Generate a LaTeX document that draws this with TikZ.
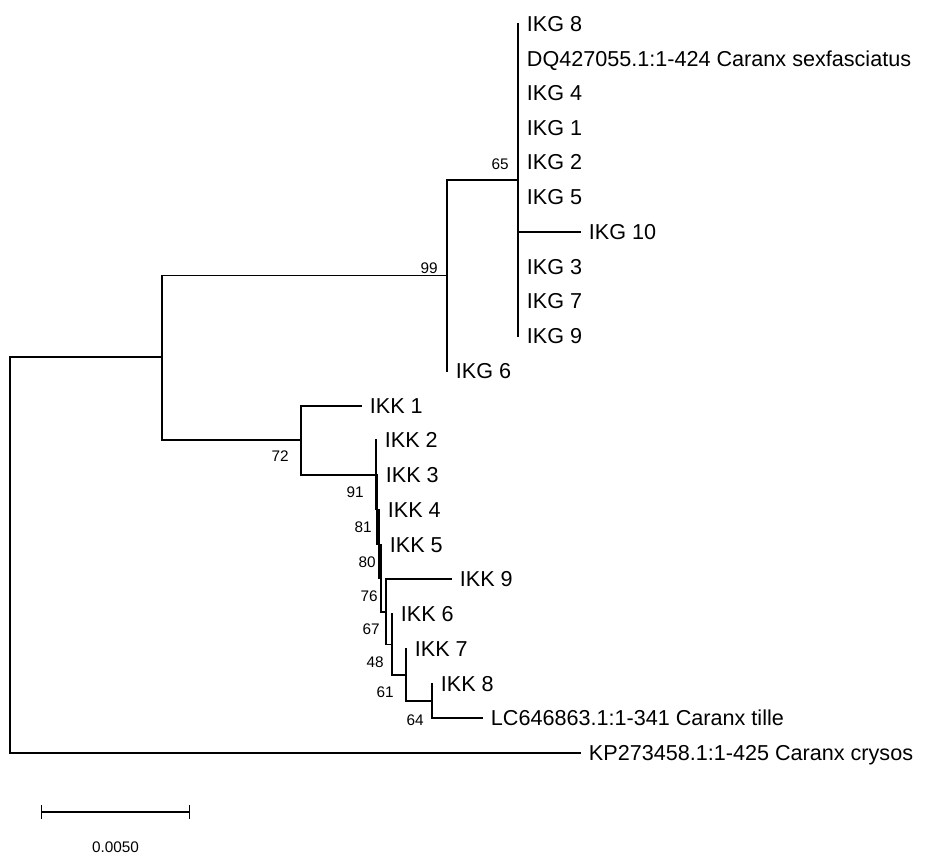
\documentclass[tikz,border=0pt]{standalone}
\usepackage{fontspec}
\setmainfont{Liberation Sans}
\usetikzlibrary{arrows.meta}

\begin{document}
\begin{tikzpicture}[
    x=0.75pt, y=-0.75pt,
    every node/.style={inner sep=0pt},
    branch/.style={line width=0.9pt, line cap=rect},
    taxon/.style={anchor=west, xshift=6.5pt, text height=11.6pt, text depth=0pt, font=\fontsize{16.2}{19}\selectfont},
    boot/.style={anchor=east, text height=8.2pt, text depth=0pt, font=\fontsize{11.5}{13}\selectfont}
]
\useasboundingbox (0,0) rectangle (929,855);

% internal nodes
\coordinate (root) at (10,555);
\coordinate (nA) at (162,357);
\coordinate (n99) at (447,275.5);
\coordinate (n65) at (518,180);
\coordinate (n72) at (301,440);
\coordinate (nB) at (376,475);
\coordinate (nC) at (377,509.5);
\coordinate (nD) at (379,544);
\coordinate (nE) at (381,578.5);
\coordinate (nF) at (386,612);
\coordinate (nG) at (392,644.5);
\coordinate (nH) at (406,675);
\coordinate (nI) at (432,701);

% tips
\coordinate (ikg8) at (518,24);
\coordinate (dq) at (518,59);
\coordinate (ikg4) at (518,93);
\coordinate (ikg1) at (518,128);
\coordinate (ikg2) at (518,162);
\coordinate (ikg5) at (518,197);
\coordinate (ikg10) at (580,232);
\coordinate (ikg3) at (518,267);
\coordinate (ikg7) at (518,301);
\coordinate (ikg9) at (518,336);
\coordinate (ikg6) at (447,371);
\coordinate (ikk1) at (361,406);
\coordinate (ikk2) at (376,440);
\coordinate (ikk3) at (377,475);
\coordinate (ikk4) at (379,510);
\coordinate (ikk5) at (381,545);
\coordinate (ikk9) at (451,579);
\coordinate (ikk6) at (392,614);
\coordinate (ikk7) at (406,649);
\coordinate (ikk8) at (432,684);
\coordinate (lc) at (482,718);
\coordinate (kp) at (580,753);

\draw[branch] (root) |- (nA);
\draw[branch] (root) |- (kp);
\draw[branch] (nA) |- (n99);
\draw[branch] (nA) |- (n72);
\draw[branch] (n99) |- (n65);
\draw[branch] (n99) |- (ikg6);
\foreach \t in {ikg8,dq,ikg4,ikg1,ikg2,ikg5,ikg10,ikg3,ikg7,ikg9}
    \draw[branch] (n65) |- (\t);
\draw[branch] (n72) |- (ikk1);
\draw[branch] (n72) |- (nB);
\draw[branch] (nB) |- (ikk2);
\draw[branch] (nB) |- (nC);
\draw[branch] (nC) |- (ikk3);
\draw[branch] (nC) |- (nD);
\draw[branch] (nD) |- (ikk4);
\draw[branch] (nD) |- (nE);
\draw[branch] (nE) |- (ikk5);
\draw[branch] (nE) |- (nF);
\draw[branch] (nF) |- (ikk9);
\draw[branch] (nF) |- (nG);
\draw[branch] (nG) |- (ikk6);
\draw[branch] (nG) |- (nH);
\draw[branch] (nH) |- (ikk7);
\draw[branch] (nH) |- (nI);
\draw[branch] (nI) |- (ikk8);
\draw[branch] (nI) |- (lc);

% tip labels
\node[taxon] (lIKG8) at (ikg8) {IKG 8};
\node[taxon] (lDQ) at (dq) {DQ427055.1:1-424 Caranx sexfasciatus};
\node[taxon] (lIKG4) at (ikg4) {IKG 4};
\node[taxon] (lIKG1) at (ikg1) {IKG 1};
\node[taxon] (lIKG2) at (ikg2) {IKG 2};
\node[taxon] (lIKG5) at (ikg5) {IKG 5};
\node[taxon] (lIKG10) at (ikg10) {IKG 10};
\node[taxon] (lIKG3) at (ikg3) {IKG 3};
\node[taxon] (lIKG7) at (ikg7) {IKG 7};
\node[taxon] (lIKG9) at (ikg9) {IKG 9};
\node[taxon] (lIKG6) at (ikg6) {IKG 6};
\node[taxon] (lIKK1) at (ikk1) {IKK 1};
\node[taxon] (lIKK2) at (ikk2) {IKK 2};
\node[taxon] (lIKK3) at (ikk3) {IKK 3};
\node[taxon] (lIKK4) at (ikk4) {IKK 4};
\node[taxon] (lIKK5) at (ikk5) {IKK 5};
\node[taxon] (lIKK9) at (ikk9) {IKK 9};
\node[taxon] (lIKK6) at (ikk6) {IKK 6};
\node[taxon] (lIKK7) at (ikk7) {IKK 7};
\node[taxon] (lIKK8) at (ikk8) {IKK 8};
\node[taxon] (lLC) at (lc) {LC646863.1:1-341 Caranx tille};
\node[taxon] (lKP) at (kp) {KP273458.1:1-425 Caranx crysos};

% bootstrap values
\node[boot] (b99) at (438,268) {99};
\node[boot] (b65) at (509,164.5) {65};
\node[boot] (b72) at (289,456) {72};
\node[boot] (b91) at (364,492) {91};
\node[boot] (b81) at (372,527) {81};
\node[boot] (b80) at (376,562) {80};
\node[boot] (b76) at (378,596) {76};
\node[boot] (b67) at (380,629) {67};
\node[boot] (b48) at (384,662) {48};
\node[boot] (b61) at (394,692) {61};
\node[boot] (b64) at (424,720) {64};

% scale bar
\coordinate (sbl) at (41,812);
\coordinate (sbr) at (190,812);
\draw[branch, line cap=butt, {Bar[width=10pt]}-{Bar[width=10pt]}] (sbl) -- (sbr);
\node[boot, anchor=center] (sblabel) at (115.5,847.5) {0.0050};
\end{tikzpicture}
\end{document}
